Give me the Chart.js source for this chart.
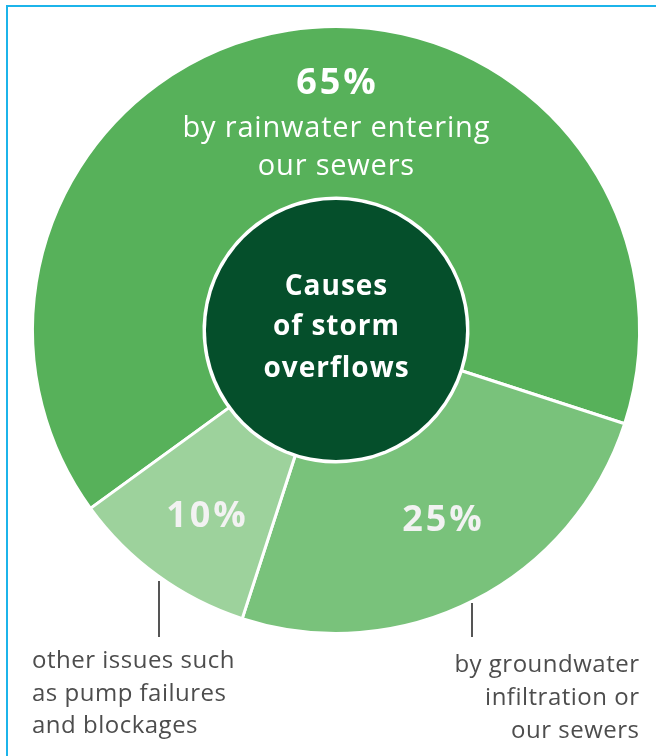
<!DOCTYPE html>
<html>
<head>
<meta charset="utf-8">
<script src="https://cdn.jsdelivr.net/npm/chart.js@4"></script>
<style>
  html, body { margin: 0; padding: 0; background: #fff; }
  body { width: 656px; height: 756px; position: relative; overflow: hidden; }
  .moldura { position: absolute; left: 6px; top: 5px; right: 0; bottom: 0;
             border-top: 2px solid #1cb4ea; border-left: 2px solid #1cb4ea; }
  #grafico { position: absolute; left: 0; top: 0; }
</style>
</head>
<body>
<div class="moldura"></div>
<canvas id="grafico" width="656" height="756"></canvas>
<script>
// dados do gráfico
const categorias = ['by rainwater entering our sewers', 'by groundwater infiltration or our sewers', 'other issues such as pump failures and blockages'];
const percentuais = [65, 25, 10];
const rotulosPercentuais = ['65%', '25%', '10%'];
const linhasCategoria65 = ['by rainwater entering', 'our sewers'];
const linhasCategoria25 = ['by groundwater', 'infiltration or', 'our sewers'];
const linhasCategoria10 = ['other issues such', 'as pump failures', 'and blockages'];
const tituloCentro = ['Causes', 'of storm', 'overflows'];
const cores = ['#57b15a', '#79c27b', '#9dd29c'];

const fonte = '"Open Sans", Lato, sans-serif';

// escreve texto centrado descontando o espaçamento final entre letras
function escreveCentro(c, texto, x, y, espaco) {
    c.letterSpacing = espaco + 'px';
    c.fillText(texto, x + espaco / 2, y);
}

// plugin que desenha o círculo central e os textos
const pluginRotulos = {
    id: 'rotulos',
    afterDatasetsDraw(chart) {
        const c = chart.ctx;
        const arco = chart.getDatasetMeta(0).data[0];
        const { x, y, innerRadius } = arco.getProps(['x', 'y', 'innerRadius'], true);

        // círculo central escuro
        c.save();
        c.beginPath();
        c.arc(x, y, innerRadius - 2, 0, Math.PI * 2);
        c.fillStyle = '#054f2b';
        c.fill();
        c.restore();

        c.save();
        c.textAlign = 'center';
        c.textBaseline = 'alphabetic';

        // título no centro
        c.fillStyle = '#ffffff';
        c.font = 'bold 28px ' + fonte;
        [-35, 5, 47].forEach((dy, i) => escreveCentro(c, tituloCentro[i], x, y + dy, 1));

        // 65%
        c.font = 'bold 36px ' + fonte;
        escreveCentro(c, rotulosPercentuais[0], x, y - 236, 3);
        c.font = '29px ' + fonte;
        escreveCentro(c, linhasCategoria65[0], x, y - 193, 0.8);
        escreveCentro(c, linhasCategoria65[1], x, y - 155, 0.8);

        // 25% e 10%
        c.fillStyle = '#f2f2f2';
        c.font = 'bold 36px ' + fonte;
        escreveCentro(c, rotulosPercentuais[1], x + 106, y + 201, 3);
        escreveCentro(c, rotulosPercentuais[2], x - 130, y + 197, 3);

        // linhas guia
        c.strokeStyle = '#555555';
        c.lineWidth = 2;
        c.beginPath();
        c.moveTo(159, 581); c.lineTo(159, 637);
        c.moveTo(472, 603); c.lineTo(472, 637);
        c.stroke();

        // textos de baixo
        c.fillStyle = '#4d4d4d';
        c.font = '24px ' + fonte;
        c.letterSpacing = '0.5px';
        c.textAlign = 'left';
        linhasCategoria10.forEach((t, i) => c.fillText(t, 32, 668 + i * 32.5));
        c.textAlign = 'right';
        linhasCategoria25.forEach((t, i) => c.fillText(t, 639.5, 672 + i * 33));
        c.restore();
    }
};

const ctx = document.getElementById('grafico').getContext('2d');
const meuGrafico = new Chart(ctx, {
    type: 'doughnut',
    data: {
        labels: categorias,
        datasets: [{
            data: percentuais,
            backgroundColor: cores,
            borderColor: '#ffffff',
            borderWidth: 3,
            hoverOffset: 0
        }]
    },
    options: {
        responsive: false,
        animation: false,
        rotation: 234,
        cutout: '43.5%',
        layout: { padding: { left: 31, right: 15, top: 25, bottom: 121 } },
        plugins: {
            legend: { display: false },
            tooltip: { enabled: false }
        }
    },
    plugins: [pluginRotulos]
});
</script>
</body>
</html>
